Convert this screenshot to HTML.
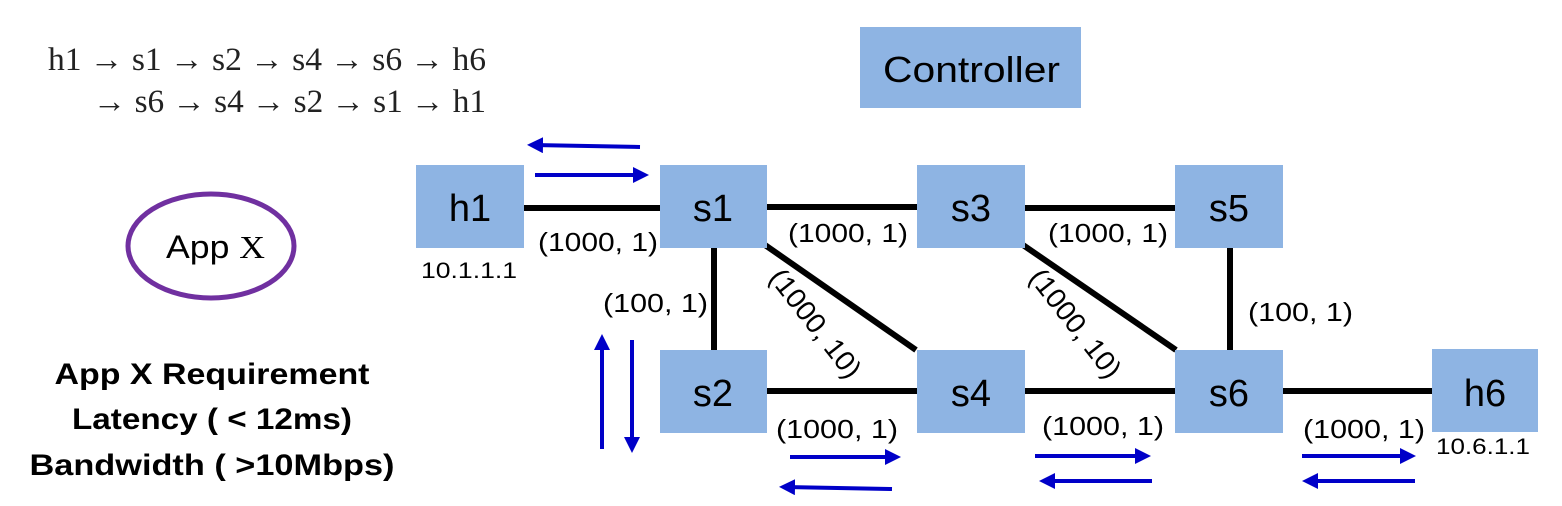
<!DOCTYPE html>
<html><head><meta charset="utf-8"><style>
html,body{margin:0;padding:0;background:#fff;}
svg{display:block;}
.nd{fill:#8eb4e3;}
.lk{stroke:#000;stroke-width:6;}
.lb{font-family:"Liberation Sans Narrow","Liberation Sans",sans-serif;font-size:26px;fill:#000;}
.nt{font-family:"Liberation Sans Narrow","Liberation Sans",sans-serif;font-size:38px;fill:#000;}
.ar{stroke:#0000c8;stroke-width:4;fill:none;}
.rq{font-family:"Liberation Sans",sans-serif;font-size:30px;font-weight:bold;fill:#000;}
.mt{font-family:"Liberation Serif",serif;font-size:33px;fill:#222;}
</style></head><body>
<svg width="1562" height="506" viewBox="0 0 1562 506">
<defs><marker id="ah" markerWidth="4" markerHeight="4" refX="2.5" refY="2" orient="auto" markerUnits="strokeWidth"><path d="M0,0 L4,2 L0,4 z" fill="#0000c8"/></marker></defs>

<text class="mt" x="48" y="70" textLength="438" lengthAdjust="spacingAndGlyphs">h1 → s1 → s2 → s4 → s6 → h6</text>
<text class="mt" x="93" y="112" textLength="393" lengthAdjust="spacingAndGlyphs">→ s6 → s4 → s2 → s1 → h1</text>

<g>
<ellipse cx="211" cy="246" rx="83" ry="52" fill="none" stroke="#7030a0" stroke-width="5"/>
<text class="lb" x="166" y="258" textLength="99" lengthAdjust="spacingAndGlyphs" style="font-size:32px">App <tspan style="font-family:'Liberation Serif',serif">X</tspan></text>
</g>

<text class="rq" x="212" y="384" text-anchor="middle" textLength="315" lengthAdjust="spacingAndGlyphs">App X Requirement</text>
<text class="rq" x="212" y="429" text-anchor="middle" textLength="280" lengthAdjust="spacingAndGlyphs">Latency ( &lt; 12ms)</text>
<text class="rq" x="212" y="475" text-anchor="middle" textLength="365" lengthAdjust="spacingAndGlyphs">Bandwidth ( &gt;10Mbps)</text>

<g>
<line class="lk" x1="524" y1="208" x2="660" y2="208"/>
<line class="lk" x1="767" y1="207" x2="917" y2="207"/>
<line class="lk" x1="1025" y1="208" x2="1175" y2="208"/>
<line class="lk" x1="714" y1="248" x2="714" y2="350"/>
<line class="lk" x1="765" y1="245" x2="916" y2="350"/>
<line class="lk" x1="1023" y1="245" x2="1176" y2="350"/>
<line class="lk" x1="1230" y1="248" x2="1230" y2="350"/>
<line class="lk" x1="767" y1="391" x2="917" y2="391"/>
<line class="lk" x1="1025" y1="391" x2="1175" y2="391"/>
<line class="lk" x1="1283" y1="391" x2="1432" y2="391"/>
</g>

<g><rect class="nd" x="860" y="27" width="221" height="81"/><text class="nt" x="883" y="82" textLength="177" lengthAdjust="spacingAndGlyphs" style="font-size:36px">Controller</text></g>
<g><rect class="nd" x="416" y="165" width="108" height="83"/><text class="nt" x="470" y="221" text-anchor="middle">h1</text></g>
<g><rect class="nd" x="660" y="165" width="107" height="83"/><text class="nt" x="713" y="221" text-anchor="middle">s1</text></g>
<g><rect class="nd" x="917" y="165" width="108" height="83"/><text class="nt" x="971" y="221" text-anchor="middle">s3</text></g>
<g><rect class="nd" x="1175" y="165" width="108" height="83"/><text class="nt" x="1229" y="221" text-anchor="middle">s5</text></g>
<g><rect class="nd" x="660" y="350" width="107" height="83"/><text class="nt" x="713" y="406" text-anchor="middle">s2</text></g>
<g><rect class="nd" x="917" y="350" width="108" height="83"/><text class="nt" x="971" y="406" text-anchor="middle">s4</text></g>
<g><rect class="nd" x="1175" y="350" width="108" height="83"/><text class="nt" x="1229" y="406" text-anchor="middle">s6</text></g>
<g><rect class="nd" x="1432" y="349" width="106" height="83"/><text class="nt" x="1485" y="406" text-anchor="middle">h6</text></g>

<text class="lb" x="421" y="278" textLength="96" lengthAdjust="spacingAndGlyphs" style="font-size:22px">10.1.1.1</text>
<text class="lb" x="1436" y="454" textLength="94" lengthAdjust="spacingAndGlyphs" style="font-size:22px">10.6.1.1</text>

<g>
<text class="lb" x="538" y="251" textLength="120" lengthAdjust="spacingAndGlyphs">(1000, 1)</text>
<text class="lb" x="788" y="242" textLength="120" lengthAdjust="spacingAndGlyphs">(1000, 1)</text>
<text class="lb" x="1048" y="242" textLength="120" lengthAdjust="spacingAndGlyphs">(1000, 1)</text>
<text class="lb" x="603" y="312" textLength="105" lengthAdjust="spacingAndGlyphs">(100, 1)</text>
<text class="lb" x="1248" y="321" textLength="105" lengthAdjust="spacingAndGlyphs">(100, 1)</text>
<text class="lb" x="776" y="438" textLength="122" lengthAdjust="spacingAndGlyphs">(1000, 1)</text>
<text class="lb" x="1042" y="435" textLength="122" lengthAdjust="spacingAndGlyphs">(1000, 1)</text>
<text class="lb" x="1303" y="438" textLength="122" lengthAdjust="spacingAndGlyphs">(1000, 1)</text>
<text class="lb" transform="translate(768,278) rotate(52)" textLength="130" lengthAdjust="spacingAndGlyphs" style="font-size:28px">(1000, 10)</text>
<text class="lb" transform="translate(1028,278) rotate(52)" textLength="130" lengthAdjust="spacingAndGlyphs" style="font-size:28px">(1000, 10)</text>
</g>

<g>
<line class="ar" x1="640" y1="147" x2="533" y2="145" marker-end="url(#ah)"/>
<line class="ar" x1="535" y1="175" x2="643" y2="175" marker-end="url(#ah)"/>
<line class="ar" x1="602" y1="449" x2="602" y2="340" marker-end="url(#ah)"/>
<line class="ar" x1="632" y1="340" x2="632" y2="447" marker-end="url(#ah)"/>
<line class="ar" x1="790" y1="457" x2="895" y2="457" marker-end="url(#ah)"/>
<line class="ar" x1="892" y1="489" x2="785" y2="487" marker-end="url(#ah)"/>
<line class="ar" x1="1035" y1="456" x2="1145" y2="456" marker-end="url(#ah)"/>
<line class="ar" x1="1152" y1="481" x2="1045" y2="481" marker-end="url(#ah)"/>
<line class="ar" x1="1302" y1="456" x2="1410" y2="456" marker-end="url(#ah)"/>
<line class="ar" x1="1415" y1="481" x2="1308" y2="481" marker-end="url(#ah)"/>
</g>
</svg>
</body></html>
